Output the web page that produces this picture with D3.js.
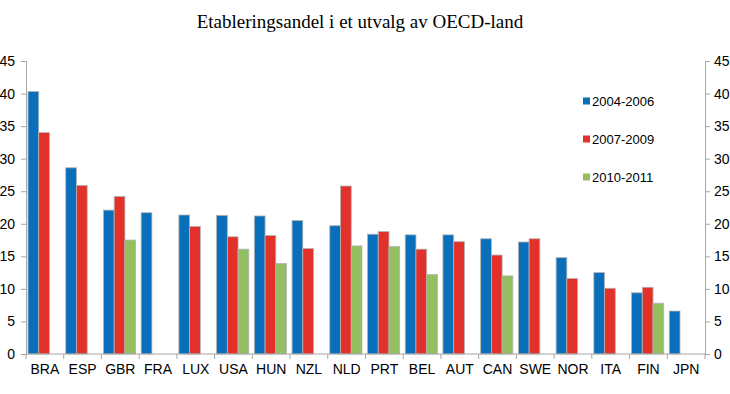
<!DOCTYPE html>
<html lang="no">
<head>
<meta charset="UTF-8">
<title>Etableringsandel i et utvalg av OECD-land</title>
<style>
  body { margin: 0; background: #fff; }
  .tick text { font-family: Arial, "Liberation Sans", sans-serif; font-size: 14px; fill: #000; }
  .domain, .tick line { stroke: #a6a6a6; }
</style>
<script src="https://cdn.jsdelivr.net/npm/d3@7"></script>
</head>
<body>
<svg width="730" height="394"></svg>
<script>
// data
var countries = ["BRA","ESP","GBR","FRA","LUX","USA","HUN","NZL","NLD","PRT","BEL","AUT","CAN","SWE","NOR","ITA","FIN","JPN"];
var s2004 = [40.3, 28.6, 22.1, 21.7, 21.35, 21.3, 21.2, 20.5, 19.7, 18.4, 18.3, 18.3, 17.7, 17.2, 14.8, 12.5, 9.4, 6.6];
var s2007 = [34.0, 25.9, 24.2, null, 19.6, 18.0, 18.2, 16.2, 25.8, 18.8, 16.1, 17.25, 15.2, 17.7, 11.6, 10.1, 10.25, null];
var s2010 = [null, null, 17.5, null, null, 16.1, 13.9, null, 16.6, 16.5, 12.2, null, 12.0, null, null, null, 7.8, null];
var seriesNames = ["2004-2006", "2007-2009", "2010-2011"];
var colors = ["#0a6fba", "#e2302a", "#93bf60"];
var yTicks = [0, 5, 10, 15, 20, 25, 30, 35, 40, 45];

var series = [s2004, s2007, s2010];

var svg = d3.select("svg");
var m = { left: 26, right: 705, top: 61, bottom: 354 };

var x = d3.scaleBand().domain(countries).range([m.left, m.right]).paddingInner(0).paddingOuter(0);
var xs = d3.scaleBand().domain(d3.range(3)).range([2, 2 + 32.2]);
var y = d3.scaleLinear().domain([0, 45]).range([m.bottom, m.top]);

svg.append("text")
    .attr("x", 360).attr("y", 28)
    .attr("text-anchor", "middle")
    .style("font-family", "'Liberation Serif', 'Times New Roman', serif")
    .style("font-size", "19px")
    .text("Etableringsandel i et utvalg av OECD-land");

// bars
series.forEach(function(vals, si) {
    svg.append("g").selectAll("rect")
        .data(countries.map(function(c, i) { return { c: c, v: vals[i] }; }).filter(function(d) { return d.v != null; }))
        .enter().append("rect")
        .attr("x", function(d) { return x(d.c) + xs(si); })
        .attr("width", xs.bandwidth())
        .attr("y", function(d) { return y(d.v); })
        .attr("height", function(d) { return m.bottom - y(d.v); })
        .attr("fill", colors[si])
        .attr("stroke", "#b4b4b4")
        .attr("stroke-width", 0.8);
});

// axes
svg.append("g")
    .attr("transform", "translate(" + m.left + ",0)")
    .call(d3.axisLeft(y).tickValues(yTicks).tickSize(5).tickPadding(6));

svg.append("g")
    .attr("transform", "translate(" + m.right + ",0)")
    .call(d3.axisRight(y).tickValues(yTicks).tickSize(5).tickPadding(4));

var xAxis = svg.append("g").attr("transform", "translate(0," + m.bottom + ")");
xAxis.append("line")
    .attr("x1", m.left).attr("x2", m.right)
    .attr("stroke", "#a6a6a6");
xAxis.selectAll("line.sep")
    .data(countries.concat(["end"]))
    .enter().append("line")
    .attr("class", "sep")
    .attr("x1", function(d, i) { return m.left + i * x.step(); })
    .attr("x2", function(d, i) { return m.left + i * x.step(); })
    .attr("y1", 0).attr("y2", 5)
    .attr("stroke", "#a6a6a6");
xAxis.selectAll("text")
    .data(countries)
    .enter().append("text")
    .attr("x", function(d) { return x(d) + x.bandwidth() / 2; })
    .attr("y", 20)
    .attr("text-anchor", "middle")
    .style("font-family", "Arial, 'Liberation Sans', sans-serif")
    .style("font-size", "14px")
    .text(function(d) { return d; });

// legend
var legend = svg.append("g").attr("transform", "translate(583,0)");
seriesNames.forEach(function(name, i) {
    var ly = 101 + i * 38;
    legend.append("rect")
        .attr("x", 0).attr("y", ly - 3.5)
        .attr("width", 7).attr("height", 7)
        .attr("fill", colors[i]);
    legend.append("text")
        .attr("x", 9).attr("y", ly + 4.5)
        .style("font-family", "Arial, 'Liberation Sans', sans-serif")
        .style("font-size", "13px")
        .text(name);
});
</script>
</body>
</html>
